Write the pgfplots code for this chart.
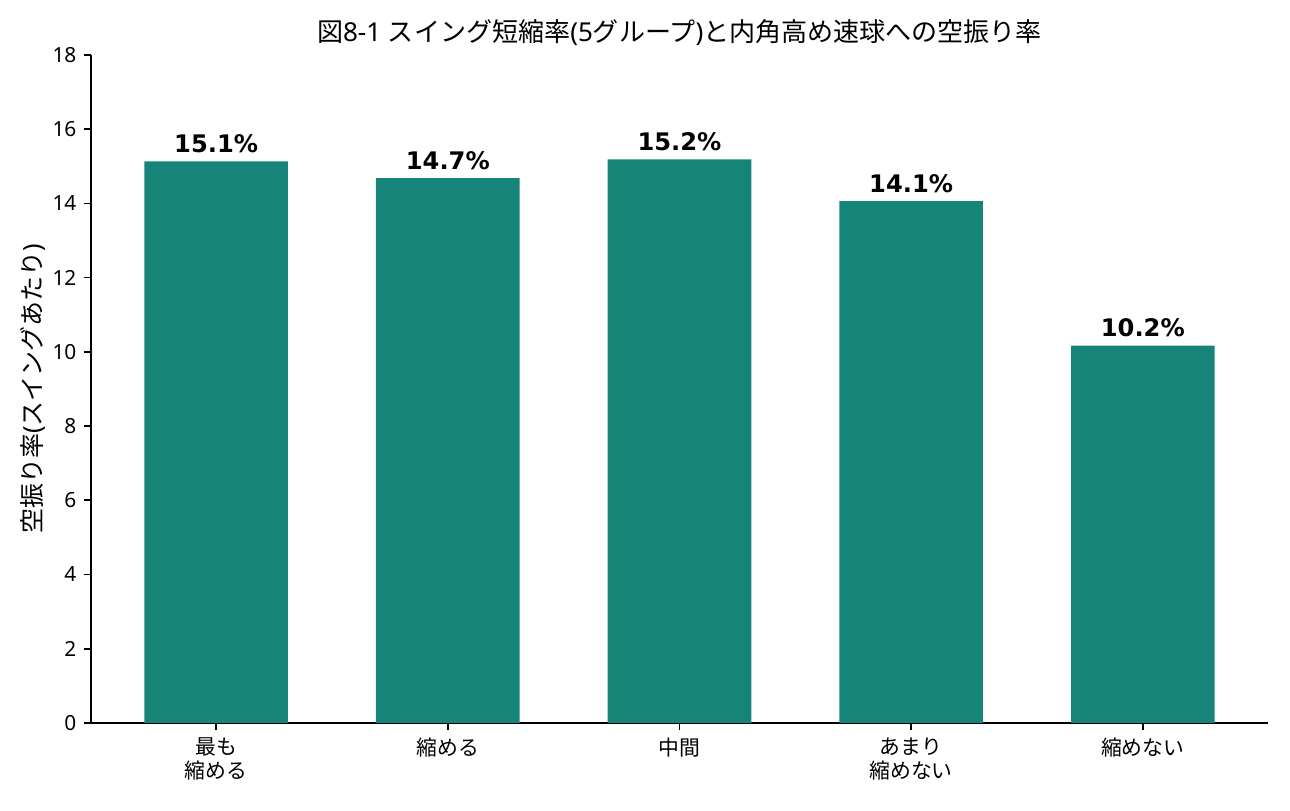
\documentclass[border=0pt]{standalone}
\usepackage{pgfplots}
\pgfplotsset{compat=1.18}
\usepackage{fontspec}
\setmainfont{Noto Sans}[BoldFont={DejaVu Sans Bold}]
\newfontfamily\cjk{Noto Sans CJK JP}[BoldFont={Noto Sans CJK JP Bold}]
\definecolor{barc}{RGB}{23,132,122}
\begin{document}
\begin{tikzpicture}
\useasboundingbox (-43.7pt,-41.8pt) rectangle (575.5pt,347pt);
\begin{axis}[
  at={(0,0)}, anchor=south west,
  scale only axis, width=564.9pt, height=320.6pt,
  xmin=-0.54, xmax=4.54, ymin=0, ymax=18,
  axis lines=left, axis line style={-, line width=0.8pt},
  tick style={line width=0.8pt, black}, tick align=outside,
  major tick length=3.5pt,
  ytick={0,2,...,18},
  xtick={0,1,2,3,4},
  xticklabels={{最も\\縮める},縮める,中間,{あまり\\縮めない},縮めない},
  xticklabel style={align=center, font=\cjk\fontsize{10}{11.5}\selectfont},
  yticklabel style={font=\fontsize{10}{12}\selectfont},
  /pgf/number format/assume math mode=true,
  ylabel={{\cjk 空振り率}({\cjk スイングあたり})},
  every axis y label/.style={at={([xshift=-28.1pt]axis description cs:0,0.5)}, rotate=90, anchor=center, font=\fontsize{12}{14}\selectfont},
  title={{\cjk 図}8-1 {\cjk スイング短縮率}(5{\cjk グループ}){\cjk と内角高め速球への空振り率}},
  every axis title/.style={at={([yshift=10.6pt]axis description cs:0.5,1)}, anchor=center, font=\fontsize{12.5}{14}\selectfont},
  ybar, bar width=0.62,
  nodes near coords={\pgfmathprintnumber[fixed,precision=1,fixed zerofill]{\pgfplotspointmeta}\%},
  nodes near coords style={font=\bfseries\fontsize{11.6}{14}\selectfont, inner sep=4pt},
  clip=false,
]
\addplot[fill=barc, draw=none] coordinates {(0,15.13) (1,14.68) (2,15.19) (3,14.06) (4,10.17)};
\end{axis}
\end{tikzpicture}
\end{document}
